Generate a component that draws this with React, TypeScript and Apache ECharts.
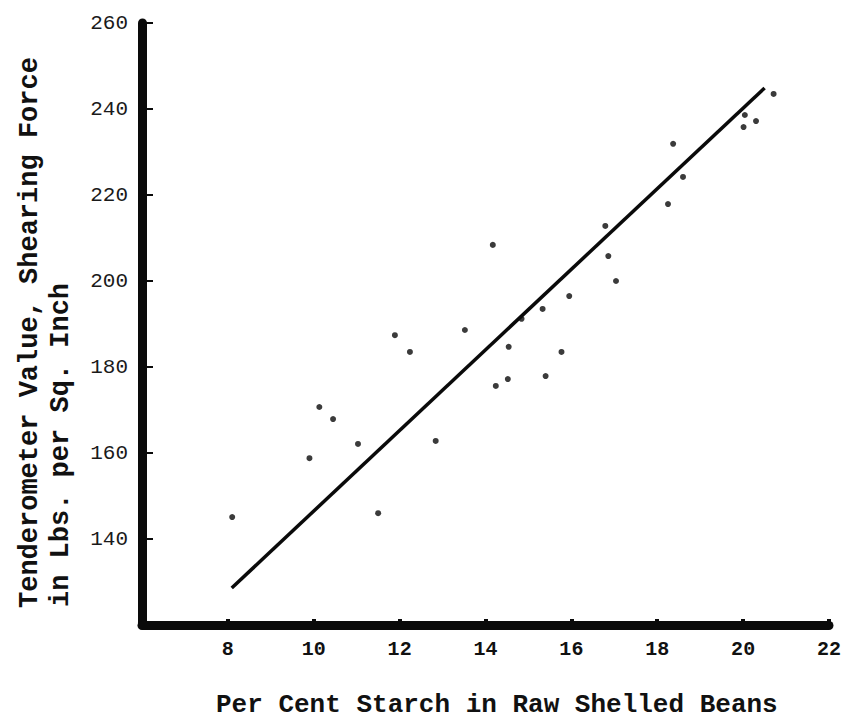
import React, { useEffect, useRef } from "react";
import * as echarts from "echarts";

// Data
const starchPercent = [8.1, 9.9, 10.13, 10.45, 11.03, 11.5, 11.89, 12.24, 12.84, 13.52, 14.17, 14.24, 14.52, 14.54, 14.84, 15.33, 15.4, 15.77, 15.95, 16.79, 16.86, 17.04, 18.25, 18.37, 18.6, 20.01, 20.04, 20.3, 20.71];
const shearForce = [145.1, 158.8, 170.7, 167.9, 162.1, 146, 187.4, 183.5, 162.8, 188.6, 208.4, 175.6, 177.2, 184.7, 191.2, 193.5, 177.9, 183.5, 196.5, 212.8, 205.8, 200, 217.9, 231.9, 224.2, 235.8, 238.6, 237.2, 243.5];
const fitLineX = [8.09, 20.5];
const fitLineY = [128.6, 244.9];
const xTitle = "Per Cent Starch in Raw Shelled Beans";
const yTitleLines = ["Tenderometer Value, Shearing Force", "in Lbs. per Sq. Inch"];

const FONT = "'Liberation Mono', 'DejaVu Sans Mono', monospace";

export default function App() {
  const ref = useRef<HTMLDivElement>(null);
  useEffect(() => {
    document.body.style.margin = "0";
    if (!ref.current) return;
    const chart = echarts.init(ref.current, undefined, { renderer: "svg" });
    const points = starchPercent.map((x, i) => [x, shearForce[i]]);
    const line = fitLineX.map((x, i) => [x, fitLineY[i]]);
    chart.setOption({
      animation: false,
      backgroundColor: "#ffffff",
      grid: { left: 142, right: 14, top: 23, bottom: 99 },
      xAxis: {
        type: "value",
        min: 6,
        max: 22,
        interval: 2,
        axisLine: { show: true, lineStyle: { color: "#0a0a0a", width: 9, cap: "round" } },
        axisTick: { show: true, inside: true, length: 6, lineStyle: { color: "#0a0a0a", width: 4 } },
        axisLabel: {
          showMinLabel: false,
          margin: 14,
          color: "#111",
          fontFamily: FONT,
          fontWeight: "bold",
          fontSize: 20,
        },
        splitLine: { show: false },
      },
      yAxis: {
        type: "value",
        min: 120,
        max: 260,
        interval: 20,
        axisLine: { show: true, lineStyle: { color: "#0a0a0a", width: 9, cap: "round" } },
        axisTick: { show: true, inside: true, length: 11, lineStyle: { color: "#0a0a0a", width: 2 } },
        axisLabel: {
          showMinLabel: false,
          margin: 14,
          color: "#1a1a1a",
          fontFamily: FONT,
          fontSize: 21,
        },
        splitLine: { show: false },
      },
      graphic: [
        {
          type: "text",
          x: 216,
          y: 705,
          style: {
            text: xTitle,
            fontFamily: FONT,
            fontWeight: "bold",
            fontSize: 26,
            fill: "#111",
            textAlign: "left",
            textVerticalAlign: "middle",
          },
        },
        {
          type: "text",
          x: 30,
          y: 608,
          rotation: Math.PI / 2,
          style: {
            text: yTitleLines[0],
            fontFamily: FONT,
            fontWeight: "bold",
            fontSize: 27,
            fill: "#111",
            textAlign: "left",
            textVerticalAlign: "middle",
          },
        },
        {
          type: "text",
          x: 61,
          y: 607,
          rotation: Math.PI / 2,
          style: {
            text: yTitleLines[1],
            fontFamily: FONT,
            fontWeight: "bold",
            fontSize: 27,
            fill: "#111",
            textAlign: "left",
            textVerticalAlign: "middle",
          },
        },
      ],
      series: [
        {
          type: "line",
          data: line,
          symbol: "none",
          lineStyle: { color: "#0a0a0a", width: 3.5 },
          z: 2,
        },
        {
          type: "scatter",
          data: points,
          symbol: "circle",
          symbolSize: 6,
          itemStyle: { color: "#0a0a0a" },
          z: 3,
        },
      ],
    });
    return () => chart.dispose();
  }, []);
  return <div ref={ref} style={{ width: 844, height: 724 }} />;
}
